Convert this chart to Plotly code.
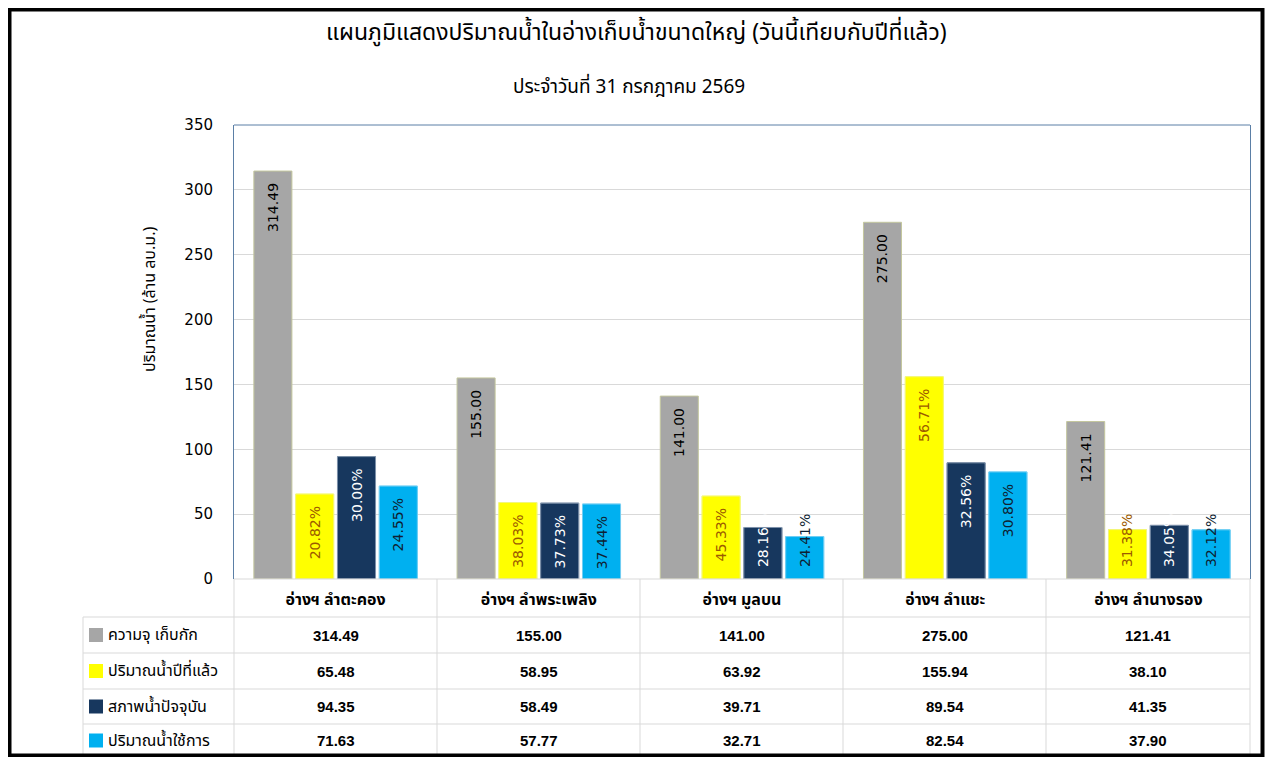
import plotly.graph_objects as go

# reservoirs
categories = ["อ่างฯ ลำตะคอง", "อ่างฯ ลำพระเพลิง", "อ่างฯ มูลบน", "อ่างฯ ลำแชะ", "อ่างฯ ลำนางรอง"]

series_names = ["ความจุ เก็บกัก", "ปริมาณน้ำปีที่แล้ว", "สภาพน้ำปัจจุบัน", "ปริมาณน้ำใช้การ"]
capacity = [314.49, 155.00, 141.00, 275.00, 121.41]
last_year = [65.48, 58.95, 63.92, 155.94, 38.10]
current = [94.35, 58.49, 39.71, 89.54, 41.35]
usable = [71.63, 57.77, 32.71, 82.54, 37.90]

# percent labels shown on the bars
last_year_pct = ["20.82%", "38.03%", "45.33%", "56.71%", "31.38%"]
current_pct = ["30.00%", "37.73%", "28.16%", "32.56%", "34.05%"]
usable_pct = ["24.55%", "37.44%", "24.41%", "30.80%", "32.12%"]

colors = ["#A6A6A6", "#FFFF00", "#17375E", "#00B0F0"]
label_colors = ["#000000", "#9C5A00", "#FFFFFF", "#0F1F33"]

FONT = "Tahoma, 'Noto Sans Thai', 'Noto Sans', 'DejaVu Sans', sans-serif"
NUMFONT = "'DejaVu Sans', Verdana, sans-serif"
TBLNUM = "'Liberation Sans', Arial, sans-serif"
NBSP = "\u00a0"

# page has an 8px body margin, so work in screen pixels and shift
OFF = 8
W, H = 1257, 749
P_LEFT, P_RIGHT, P_TOP, P_BOT = 83, 1250, 125, 757   # paper box on screen
ML, MR, MT, MB = P_LEFT - OFF, W - (P_RIGHT - OFF), P_TOP - OFF, H - (P_BOT - OFF)
PW = P_RIGHT - P_LEFT
PH = P_BOT - P_TOP


def px_x(px):
    return (px - P_LEFT) / PW


def px_y(py):
    return (P_BOT - py) / PH


PLOT_L, PLOT_B = 234, 579
col_edges = [234, 437, 640, 843, 1046, 1250]
row_edges = [617, 653, 689, 724, 757]

fig = go.Figure()

values = [capacity, last_year, current, usable]
labels = [[f"{v:.2f}" for v in capacity], last_year_pct, current_pct, usable_pct]

# bars, label near the top of the bar
for k, (name, vals, txt, col, tcol) in enumerate(zip(series_names, values, labels, colors, label_colors)):
    top_txt = [t + NBSP * 2 if v >= 50 else "" for v, t in zip(vals, txt)]
    fig.add_trace(go.Bar(
        x=categories, y=vals, name=name, offsetgroup=str(k),
        marker=dict(color=col, line=dict(color="#C4C79E" if k == 0 else col, width=1)),
        text=top_txt, textposition="inside", insidetextanchor="end",
        textangle=-90, constraintext="none", cliponaxis=False,
        textfont=dict(family=NUMFONT, size=14, color=tcol),
        showlegend=False, hoverinfo="x+y",
    ))

# labels of short bars start from the base and run past the top
for k, (vals, txt, tcol) in enumerate(zip(values, labels, label_colors)):
    base_txt = [NBSP * 2 + t if v < 50 else "" for v, t in zip(vals, txt)]
    if not any(base_txt):
        continue
    fig.add_trace(go.Bar(
        x=categories, y=vals, offsetgroup=str(k),
        marker=dict(color="rgba(0,0,0,0)"),
        text=base_txt, textposition="inside", insidetextanchor="start",
        textangle=-90, constraintext="none", cliponaxis=False,
        textfont=dict(family=NUMFONT, size=14, color=tcol),
        showlegend=False, hoverinfo="skip",
    ))

shapes = []
annotations = []
GRID = "#D9D9D9"
BORDER = "#5B7FA6"

# plot frame top
shapes.append(dict(type="line", xref="paper", yref="paper",
                   x0=px_x(PLOT_L), x1=1, y0=1, y1=1, line=dict(color=BORDER, width=1)))

# data table grid
shapes.append(dict(type="line", xref="paper", yref="paper",
                   x0=px_x(PLOT_L), x1=1, y0=px_y(PLOT_B), y1=px_y(PLOT_B),
                   line=dict(color=GRID, width=1)))
for r in row_edges[:-1]:
    shapes.append(dict(type="line", xref="paper", yref="paper",
                       x0=0, x1=1, y0=px_y(r), y1=px_y(r), line=dict(color=GRID, width=1)))
for c in col_edges:
    shapes.append(dict(type="line", xref="paper", yref="paper",
                       x0=px_x(c), x1=px_x(c), y0=0, y1=px_y(PLOT_B), line=dict(color=GRID, width=1)))
shapes.append(dict(type="line", xref="paper", yref="paper",
                   x0=0, x1=0, y0=0, y1=px_y(row_edges[0]), line=dict(color=GRID, width=1)))

for i, (name, vals, col) in enumerate(zip(series_names, values, colors)):
    top, bot = row_edges[i], row_edges[i + 1]
    mid = (top + bot) / 2
    shapes.append(dict(type="rect", xref="paper", yref="paper",
                       x0=px_x(89), x1=px_x(103), y0=px_y(mid + 7), y1=px_y(mid - 7),
                       fillcolor=col, line=dict(width=0)))
    annotations.append(dict(text=name, xref="paper", yref="paper", x=px_x(106), y=px_y(mid),
                            xanchor="left", yanchor="middle", showarrow=False,
                            font=dict(family=FONT, size=16, color="#000000")))
    for cat, v in zip(categories, vals):
        annotations.append(dict(text=f"<b>{v:.2f}</b>", xref="x", yref="paper", x=cat, y=px_y(mid),
                                xanchor="center", yanchor="middle", showarrow=False,
                                font=dict(family=TBLNUM, size=15, color="#000000")))

annotations += [
    dict(text="แผนภูมิแสดงปริมาณน้ำในอ่างเก็บน้ำขนาดใหญ่ (วันนี้เทียบกับปีที่แล้ว)",
         xref="paper", yref="paper", x=px_x(636), y=px_y(33), xanchor="center", yanchor="middle",
         showarrow=False, font=dict(family=FONT, size=23, color="#000000")),
    dict(text="ประจำวันที่ 31 กรกฎาคม 2569",
         xref="paper", yref="paper", x=px_x(629), y=px_y(88), xanchor="center", yanchor="middle",
         showarrow=False, font=dict(family=FONT, size=19, color="#000000")),
    dict(text="ปริมาณน้ำ (ล้าน ลบ.ม.)", textangle=-90,
         xref="paper", yref="paper", x=px_x(150), y=px_y(300), xanchor="center", yanchor="middle",
         showarrow=False, font=dict(family=FONT, size=16, color="#000000")),
]

# outer black frame
shapes.append(dict(type="rect", xref="paper", yref="paper",
                   x0=px_x(OFF + 1.5), x1=px_x(OFF + W - 2.5), y0=px_y(OFF + H - 1.5), y1=px_y(OFF + 1.5),
                   line=dict(color="black", width=4), fillcolor="rgba(0,0,0,0)"))

fig.update_layout(
    width=W, height=H,
    margin=dict(l=ML, r=MR, t=MT, b=MB, autoexpand=False),
    paper_bgcolor="white", plot_bgcolor="white",
    barmode="group", bargap=0.177, bargroupgap=0.09,
    font=dict(family=FONT, color="#000000"),
    xaxis=dict(domain=[px_x(PLOT_L), 1], showline=False, ticks="", showgrid=False,
               ticklabelstandoff=9,
               tickfont=dict(family=FONT, size=16, color="#000000", weight="bold")),
    yaxis=dict(domain=[px_y(PLOT_B), 1], range=[0, 350], dtick=50,
               showline=True, linecolor=BORDER, mirror=True,
               gridcolor=GRID, ticks="", ticklabelstandoff=17,
               tickfont=dict(family=NUMFONT, size=15, color="#000000"),
               zeroline=False),
    annotations=annotations,
    shapes=shapes,
)

fig.write_html("out.html")
